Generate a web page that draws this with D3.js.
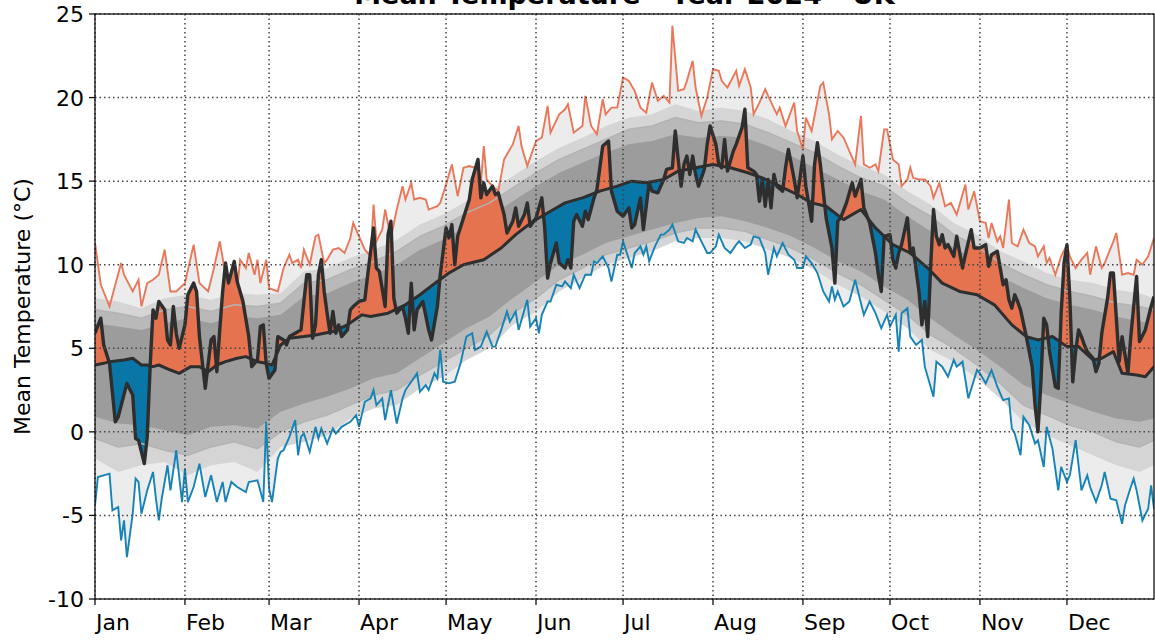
<!DOCTYPE html>
<html>
<head>
<meta charset="utf-8">
<script src="https://cdn.jsdelivr.net/npm/d3@7"></script>
<style>
  body { margin: 0; background: #fff; }
  svg { display: block; font-family: "DejaVu Sans", sans-serif; }
</style>
</head>
<body>
<div id="chart"></div>
<script>
// month labels and the day of year (2024, leap) where each month starts
const months = ["Jan", "Feb", "Mar", "Apr", "May", "Jun", "Jul", "Aug", "Sep", "Oct", "Nov", "Dec"]
const monthStartDay = [0, 31, 60, 91, 121, 152, 182, 213, 244, 274, 305, 335]
const yTicks = [-10, -5, 0, 5, 10, 15, 20, 25]

// record daily max / min, [day of year, °C]
const recordMax = [[0,11.3],[2,8.8],[5,7.5],[9,10.1],[10,9.4],[13,8.4],[15,9.1],[16,7.5],[18,8.9],[20,9.1],[22,9.4],[24,10.9],[26,8.4],[28,8.4],[31,8.9],[34,11.2],[36,8.9],[39,8.4],[41,9.8],[43,11.4],[45,9.4],[49,8.4],[50,10.3],[52,9.8],[53,10.7],[55,9.4],[56,10.3],[57,8.9],[59,10.3],[60,8.6],[63,8.4],[65,9.8],[67,10.6],[68,10.1],[70,10.3],[71,9.8],[72,10.9],[74,10.0],[76,11.7],[77,11.8],[79,10.1],[80,10.3],[82,10.9],[84,11.0],[86,10.7],[88,11.6],[89,12.5],[91,11.7],[93,10.9],[95,10.5],[96,13.6],[97,11.4],[99,12.1],[100,13.3],[102,11.6],[104,13.3],[106,14.7],[107,13.9],[109,14.9],[110,13.9],[112,14.0],[114,13.9],[115,13.3],[118,13.5],[119,13.7],[121,14.8],[123,16.0],[125,14.1],[127,15.8],[129,15.9],[131,15.8],[133,14.9],[134,17.1],[135,15.1],[137,14.7],[139,14.4],[141,16.3],[144,17.2],[146,18.3],[147,17.1],[149,15.9],[152,17.4],[154,17.6],[156,19.5],[157,17.9],[160,19.0],[162,19.3],[163,19.6],[165,17.9],[168,18.3],[169,20.1],[171,18.3],[173,17.8],[175,19.9],[176,19.0],[178,19.4],[180,19.4],[182,21.2],[184,21.0],[186,20.4],[188,19.4],[190,19.1],[192,20.9],[194,19.8],[196,20.1],[198,19.7],[199,24.3],[201,20.4],[203,20.5],[204,21.0],[206,22.2],[207,20.6],[209,18.9],[211,20.0],[213,21.7],[215,21.6],[216,21.0],[218,20.6],[221,21.6],[222,20.7],[224,21.7],[226,20.6],[227,19.0],[229,19.7],[231,20.5],[232,20.1],[235,19.0],[236,19.4],[238,18.3],[241,19.7],[242,18.0],[244,16.9],[245,18.8],[247,18.0],[248,18.9],[250,20.7],[251,20.9],[253,19.0],[254,17.5],[256,18.0],[258,17.6],[260,16.8],[262,16.0],[264,18.9],[265,16.0],[267,15.8],[269,16.0],[270,15.6],[272,18.1],[273,18.1],[275,16.3],[277,16.0],[278,14.7],[280,15.1],[281,15.8],[282,15.2],[284,15.1],[286,15.1],[288,14.7],[289,14.0],[291,14.9],[293,13.5],[295,13.7],[297,13.0],[300,14.8],[301,13.3],[303,14.4],[305,12.6],[307,12.5],[308,11.6],[309,12.5],[311,11.4],[312,11.7],[313,11.0],[315,13.9],[316,11.3],[318,11.1],[320,12.1],[322,11.3],[324,11.1],[325,10.5],[327,11.1],[328,10.1],[329,10.4],[331,9.4],[333,10.5],[335,11.2],[336,10.5],[338,9.8],[340,10.3],[342,10.7],[343,9.4],[345,11.1],[347,9.8],[348,10.1],[351,11.4],[352,11.9],[354,9.4],[356,9.5],[358,9.4],[359,10.3],[361,10.0],[363,10.5],[365,11.6]]

const recordMin = [[0,-4.4],[1,-2.7],[5,-2.5],[6,-4.7],[8,-4.5],[9,-6.5],[10,-5.3],[11,-7.5],[13,-4.9],[14,-2.8],[15,-3.0],[16,-4.9],[18,-3.5],[20,-2.4],[21,-4.0],[22,-5.3],[23,-4.0],[25,-2.0],[26,-3.5],[28,-1.1],[30,-4.2],[31,-2.2],[32,-4.2],[34,-3.3],[36,-1.9],[38,-3.9],[40,-2.6],[42,-4.2],[44,-3.0],[45,-4.2],[47,-3.0],[49,-3.3],[52,-3.6],[53,-3.0],[56,-2.9],[58,-4.2],[59,0.6],[60,-3.4],[61,-4.2],[63,-1.6],[64,-1.2],[65,-1.1],[67,-0.3],[69,0.7],[70,-1.4],[71,-0.3],[72,-0.1],[74,-1.2],[76,0.3],[77,-0.4],[78,0.2],[80,-0.7],[82,0.2],[83,-0.1],[85,0.3],[87,0.5],[88,0.6],[90,1.0],[91,0.3],[93,1.8],[95,2.0],[96,2.5],[97,1.6],[99,2.0],[100,0.7],[102,2.5],[104,0.5],[106,2.0],[107,2.5],[109,3.0],[111,3.5],[112,2.4],[114,2.8],[115,2.5],[117,3.5],[118,3.2],[119,4.9],[120,3.0],[122,2.9],[124,3.0],[126,4.1],[128,5.7],[130,5.9],[131,4.9],[133,5.1],[135,6.0],[137,5.1],[138,5.1],[140,6.1],[142,7.2],[143,6.6],[145,7.2],[146,6.1],[149,7.9],[150,6.3],[152,6.8],[153,5.9],[154,7.0],[156,7.8],[157,7.8],[159,8.8],[161,8.7],[162,9.0],[164,8.6],[165,9.4],[167,8.6],[169,9.4],[171,9.4],[172,10.2],[173,10.1],[175,10.5],[177,9.8],[178,9.0],[180,10.6],[181,10.6],[182,11.4],[185,9.8],[186,10.7],[188,11.1],[189,10.6],[190,11.1],[191,10.2],[193,11.1],[195,11.8],[196,11.8],[198,12.1],[199,12.4],[201,11.4],[203,11.3],[204,11.6],[206,11.4],[207,12.1],[209,11.4],[211,10.7],[212,10.7],[214,11.1],[215,11.8],[217,11.0],[219,10.7],[221,11.2],[222,11.4],[224,11.0],[226,11.2],[227,11.7],[229,11.6],[231,10.7],[232,9.4],[234,11.0],[235,10.5],[237,11.3],[239,10.6],[241,10.3],[242,9.8],[244,9.8],[245,10.5],[247,10.1],[249,9.5],[251,8.4],[253,7.8],[254,8.7],[255,7.9],[256,8.4],[258,7.5],[260,7.8],[262,9.1],[265,7.0],[267,7.8],[269,7.1],[271,6.2],[273,7.0],[274,6.3],[276,7.0],[277,4.8],[278,7.1],[280,7.4],[281,5.7],[283,5.2],[285,5.5],[286,3.9],[289,2.1],[290,4.2],[292,3.9],[294,3.3],[296,4.3],[297,3.9],[299,4.2],[301,2.0],[304,3.7],[305,3.5],[307,2.9],[309,3.7],[311,2.7],[313,1.9],[315,2.0],[316,0.2],[317,-0.1],[319,-1.4],[320,0.9],[322,0.4],[324,-0.7],[325,-0.5],[327,-2.1],[328,0.3],[330,-1.0],[332,-3.5],[333,-2.1],[335,-3.0],[336,-2.6],[338,-0.5],[340,-3.5],[342,-2.6],[343,-3.3],[345,-4.2],[347,-3.2],[348,-2.4],[350,-4.0],[352,-4.1],[354,-5.5],[355,-4.4],[357,-3.3],[358,-2.8],[359,-3.5],[361,-5.3],[363,-4.6],[364,-3.2],[365,-4.6]]

// percentile bands, one value per band day
const bandDays = [0,8,16,24,32,40,48,56,64,72,80,88,96,104,112,120,128,136,144,152,160,168,176,184,192,200,208,216,224,232,240,248,256,264,272,280,288,296,304,312,320,328,336,344,352,360,365]
const outerHigh = [8.0,7.8,7.4,8.0,8.2,7.9,8.3,8.2,8.3,9.6,9.8,10.4,10.9,11.5,12.4,13.0,13.8,14.4,15.3,16.2,17.0,17.6,18.3,18.8,19.0,19.6,19.2,19.4,19.2,18.7,18.0,17.4,16.6,15.9,15.4,14.4,13.6,12.5,11.8,10.8,10.2,9.5,9.1,8.9,8.5,8.3,8.0]
const midHigh = [7.3,7.1,6.8,7.3,7.5,7.2,7.6,7.5,7.7,8.9,9.1,9.7,10.2,10.8,11.7,12.3,13.1,13.7,14.6,15.5,16.3,16.9,17.5,18.1,18.3,18.8,18.5,18.6,18.4,17.9,17.3,16.7,15.9,15.2,14.7,13.7,12.9,11.8,11.1,10.1,9.4,8.8,8.4,8.1,7.7,7.5,7.3]
const innerHigh = [6.5,6.3,6.1,6.5,6.8,6.5,6.9,6.8,7.0,8.1,8.3,8.9,9.4,10.0,10.9,11.5,12.3,12.9,13.8,14.7,15.5,16.1,16.7,17.2,17.4,17.8,17.6,17.7,17.6,17.1,16.5,15.8,15.1,14.4,13.9,12.9,12.0,11.0,10.3,9.3,8.6,8.0,7.6,7.3,6.9,6.6,6.5]
const innerLow = [0.9,0.5,0.4,0.1,-0.2,0.3,0.4,0.2,1.2,1.7,2.1,2.6,3.2,3.5,4.4,5.3,6.2,6.9,8.0,9.0,10.0,10.6,11.3,11.7,12.1,12.5,12.8,12.9,12.6,12.2,11.7,11.0,10.2,9.6,8.7,7.9,6.8,5.8,4.9,3.9,2.8,2.2,1.7,1.2,0.8,0.6,0.8]
const midLow = [-0.4,-0.9,-0.7,-1.1,-1.4,-0.9,-0.6,-1.0,0.0,0.6,1.0,1.6,2.2,2.5,3.4,4.2,5.0,5.8,7.1,8.0,9.1,9.8,10.6,11.0,11.4,11.9,12.2,12.2,12.0,11.5,11.0,10.3,9.5,8.8,7.9,7.0,5.8,5.0,4.0,2.9,1.6,1.0,0.4,0.0,-0.6,-0.9,-0.5]
const outerLow = [-1.6,-2.4,-2.0,-1.8,-2.6,-2.0,-1.8,-2.4,-0.9,-0.6,-0.2,0.8,1.4,1.6,2.6,3.3,4.3,5.0,6.4,7.2,8.4,9.2,10.0,10.4,10.8,11.4,11.6,11.6,11.4,10.9,10.4,9.7,8.8,8.1,7.2,6.2,4.9,4.2,3.2,2.0,0.6,-0.2,-0.8,-1.4,-2.0,-2.4,-2.0]

// long-term mean, [day, °C]
const meanTemp = [[0,4.0],[3,4.1],[5,4.2],[10,4.3],[13,4.4],[16,4.0],[18,4.0],[20,3.9],[22,4.0],[26,3.7],[29,3.5],[33,3.9],[36,3.9],[39,3.6],[42,4.0],[45,4.2],[49,4.4],[52,4.5],[56,4.2],[59,4.1],[61,4.0],[64,5.2],[67,5.6],[72,5.7],[76,5.8],[82,6.0],[87,6.4],[92,7.0],[95,6.9],[101,7.1],[107,7.6],[112,8.2],[118,9.0],[122,9.5],[127,10.0],[134,10.3],[140,11.0],[145,11.8],[151,12.6],[157,13.2],[162,13.7],[168,14.0],[174,14.4],[180,14.7],[185,15.0],[190,14.9],[196,15.1],[201,15.6],[207,15.8],[213,16.0],[219,15.8],[225,15.5],[230,15.2],[236,14.7],[242,14.2],[247,13.7],[252,13.5],[258,12.7],[264,13.3],[269,12.2],[275,11.2],[281,10.7],[287,9.8],[292,8.9],[298,8.4],[304,8.2],[310,7.6],[316,6.4],[321,5.7],[325,5.5],[330,5.7],[335,5.1],[339,5.1],[344,4.3],[347,4.4],[351,4.8],[354,3.5],[359,3.4],[362,3.3],[365,3.9]]

// 2024 daily mean, [day, °C]
const temp2024 = [[0,5.9],[2,6.8],[3,5.2],[5,4.1],[7,0.6],[8,0.9],[11,2.9],[13,2.2],[14,-0.4],[15,-0.5],[17,-1.9],[18,-0.3],[19,3.9],[20,7.3],[21,6.8],[22,7.8],[24,7.3],[25,5.5],[26,5.2],[27,7.5],[28,5.9],[29,5.0],[31,6.4],[32,8.2],[34,8.9],[35,8.4],[36,5.7],[38,2.6],[40,5.5],[41,5.7],[42,3.6],[43,6.1],[44,8.4],[45,10.1],[46,8.9],[48,10.2],[49,9.0],[51,7.8],[53,5.7],[54,3.9],[56,4.3],[57,6.3],[58,6.4],[59,4.1],[60,3.2],[62,3.7],[63,5.7],[65,5.5],[66,5.2],[67,5.7],[69,5.9],[71,6.1],[72,7.8],[73,9.4],[74,9.4],[75,5.6],[76,6.4],[77,9.4],[78,10.3],[79,8.4],[80,7.1],[81,5.9],[82,7.2],[83,5.9],[84,6.4],[85,5.7],[87,6.1],[88,7.3],[89,7.5],[91,7.8],[93,7.9],[94,9.4],[96,12.2],[97,9.8],[98,9.6],[100,7.5],[101,11.8],[102,12.6],[103,8.0],[104,7.1],[106,7.5],[107,6.8],[108,5.9],[109,8.9],[110,6.1],[111,7.3],[113,7.8],[115,6.1],[116,5.5],[118,7.5],[119,9.4],[121,12.2],[122,11.6],[123,12.4],[124,10.0],[125,11.7],[127,12.8],[129,13.9],[130,15.1],[132,16.3],[133,14.0],[134,14.9],[135,14.2],[137,14.7],[138,14.2],[139,14.3],[141,13.0],[142,11.9],[144,12.6],[145,13.4],[146,12.3],[148,13.0],[149,13.7],[150,12.3],[152,12.8],[153,13.4],[154,14.0],[155,12.2],[156,9.2],[157,10.1],[159,11.3],[160,10.1],[162,9.8],[163,10.3],[164,9.8],[165,12.6],[166,13.0],[168,12.3],[169,13.2],[170,12.7],[172,14.0],[173,14.5],[175,17.1],[177,17.4],[178,14.4],[180,13.2],[182,12.9],[184,13.4],[185,12.2],[186,12.4],[188,14.0],[189,12.1],[191,14.9],[192,14.4],[194,14.3],[196,15.1],[197,15.7],[199,15.8],[200,18.0],[201,16.3],[202,14.7],[203,16.0],[204,16.5],[205,15.4],[206,16.5],[207,15.4],[208,14.7],[210,15.7],[211,17.2],[212,18.3],[214,17.2],[215,16.0],[216,15.8],[217,17.5],[218,15.6],[220,16.8],[221,17.2],[223,18.2],[224,19.3],[225,15.8],[227,15.6],[228,15.4],[229,13.8],[230,15.1],[231,13.5],[232,15.1],[233,13.4],[234,15.4],[235,14.7],[237,14.4],[238,15.8],[239,16.9],[241,15.1],[242,14.0],[243,15.2],[244,16.5],[245,14.7],[247,12.6],[248,16.0],[249,17.3],[250,16.0],[252,12.8],[254,11.0],[255,8.9],[256,12.6],[257,12.8],[259,13.7],[261,14.9],[262,14.1],[264,15.1],[265,13.4],[267,12.5],[269,10.7],[270,9.4],[271,8.4],[272,11.7],[274,11.8],[275,10.3],[276,9.8],[277,10.7],[278,11.2],[280,12.8],[281,10.7],[282,11.0],[284,8.4],[285,6.4],[286,7.8],[287,5.7],[288,9.8],[289,13.3],[290,11.7],[291,11.2],[292,11.8],[293,11.0],[294,11.2],[296,10.5],[297,11.7],[299,9.8],[300,10.6],[302,12.1],[303,11.0],[305,11.0],[307,11.2],[308,9.9],[309,10.6],[311,10.8],[312,9.8],[313,8.8],[314,9.1],[315,7.9],[316,7.4],[317,8.2],[318,7.8],[319,7.3],[321,5.7],[323,3.9],[324,1.6],[325,0.0],[326,2.9],[327,6.8],[328,6.4],[329,4.8],[331,2.7],[332,2.6],[333,7.1],[334,10.1],[335,11.2],[336,8.0],[337,3.0],[338,4.8],[339,6.1],[340,5.7],[341,5.2],[342,4.8],[344,4.4],[345,3.6],[346,4.1],[347,5.9],[349,8.0],[350,9.5],[351,9.5],[353,4.2],[354,5.7],[356,3.5],[357,5.7],[359,9.3],[360,5.4],[362,6.1],[364,7.5],[365,8.1]]

const width = 1155
const height = 642
const plot = { left: 95, right: 1154, top: 14, bottom: 599 }

const svg = d3.select("#chart").append("svg")
    .attr("width", width)
    .attr("height", height)

const x = d3.scaleLinear().domain([0, 365]).range([plot.left, plot.right])
const y = d3.scaleLinear().domain([-10, 25]).range([plot.bottom, plot.top])

const defs = svg.append("defs")

defs.append("clipPath").attr("id", "plot-clip")
  .append("rect")
    .attr("x", plot.left).attr("y", plot.top)
    .attr("width", plot.right - plot.left).attr("height", plot.bottom - plot.top)

//regions above and below the long-term mean, used to colour the anomaly
defs.append("clipPath").attr("id", "above-mean")
  .append("path")
    .attr("d", d3.area().x(d => x(d[0])).y0(plot.top).y1(d => y(d[1]))(meanTemp))

defs.append("clipPath").attr("id", "below-mean")
  .append("path")
    .attr("d", d3.area().x(d => x(d[0])).y0(plot.bottom).y1(d => y(d[1]))(meanTemp))

const g = svg.append("g").attr("clip-path", "url(#plot-clip)")

const line = d3.line().x(d => x(d[0])).y(d => y(d[1]))
const under = d3.area().x(d => x(d[0])).y0(plot.bottom).y1(d => y(d[1]))

//record range: light under record max, then white under record min
g.append("path").attr("d", under(recordMax)).attr("fill", "#ececec")
g.append("path").attr("d", under(recordMin)).attr("fill", "#ffffff")

const band = (hi, lo) => d3.area()
    .x((d, i) => x(bandDays[i]))
    .y0((d, i) => y(lo[i]))
    .y1((d, i) => y(hi[i]))(bandDays)

g.append("path").attr("d", band(outerHigh, outerLow)).attr("fill", "#d5d5d5")
g.append("path").attr("d", band(midHigh, midLow)).attr("fill", "#b9b9b9")
g.append("path").attr("d", band(innerHigh, innerLow)).attr("fill", "#9c9c9c")

//anomaly fills between 2024 and the mean
g.append("path")
    .attr("d", under(temp2024))
    .attr("fill", "#e5734f")
    .attr("clip-path", "url(#above-mean)")

g.append("path")
    .attr("d", d3.area().x(d => x(d[0])).y0(plot.top).y1(d => y(d[1]))(temp2024))
    .attr("fill", "#0877a8")
    .attr("clip-path", "url(#below-mean)")

//band edges show through the fills
const bandEdge = vals => d3.line().x((d, i) => x(bandDays[i])).y((d, i) => y(vals[i]))(bandDays)
g.append("path").attr("d", bandEdge(midHigh)).attr("fill", "none").attr("stroke", "#b3b3b3").attr("stroke-width", 1.5)
g.append("path").attr("d", bandEdge(midLow)).attr("fill", "none").attr("stroke", "#b3b3b3").attr("stroke-width", 1.5)

//dotted grid
const grid = svg.append("g")
    .attr("stroke", "#444")
    .attr("stroke-width", 1.5)
    .attr("stroke-dasharray", "1.5,3")

grid.selectAll(".vgrid").data(monthStartDay).join("line")
    .attr("x1", d => x(d)).attr("x2", d => x(d))
    .attr("y1", plot.top).attr("y2", plot.bottom)

grid.selectAll(".hgrid").data(yTicks).join("line")
    .attr("x1", plot.left).attr("x2", plot.right)
    .attr("y1", d => y(d)).attr("y2", d => y(d))

//records, mean and 2024
g.append("path").attr("d", line(recordMax)).attr("fill", "none").attr("stroke", "#e8785a").attr("stroke-width", 1.9)
g.append("path").attr("d", line(recordMin)).attr("fill", "none").attr("stroke", "#1683b5").attr("stroke-width", 1.9)
g.append("path").attr("d", line(meanTemp)).attr("fill", "none").attr("stroke", "#2e2e2e").attr("stroke-width", 3)
  .attr("stroke-linejoin", "round")
g.append("path").attr("d", line(temp2024)).attr("fill", "none").attr("stroke", "#2e2e2e").attr("stroke-width", 3.4)
  .attr("stroke-linejoin", "round")

//frame
svg.append("rect")
    .attr("x", plot.left).attr("y", plot.top)
    .attr("width", plot.right - plot.left).attr("height", plot.bottom - plot.top)
    .attr("fill", "none").attr("stroke", "#111").attr("stroke-width", 1.3)

//y axis ticks and labels
svg.selectAll(".ytick").data(yTicks).join("line")
    .attr("x1", plot.left - 6).attr("x2", plot.left)
    .attr("y1", d => y(d)).attr("y2", d => y(d))
    .attr("stroke", "#111").attr("stroke-width", 1.3)

svg.selectAll(".ylab").data(yTicks).join("text")
    .attr("x", plot.left - 11)
    .attr("y", d => y(d) + 8)
    .attr("text-anchor", "end")
    .attr("font-size", 22)
    .text(d => d)

//x axis ticks and month labels
svg.selectAll(".xtick").data(monthStartDay).join("line")
    .attr("x1", d => x(d)).attr("x2", d => x(d))
    .attr("y1", plot.bottom).attr("y2", plot.bottom + 6)
    .attr("stroke", "#111").attr("stroke-width", 1.3)

svg.selectAll(".xlab").data(months).join("text")
    .attr("x", (d, i) => x(monthStartDay[i]) + 1)
    .attr("y", 630)
    .attr("font-size", 22)
    .text(d => d)

svg.append("text")
    .attr("transform", "translate(30," + (plot.top + plot.bottom) / 2 + ") rotate(-90)")
    .attr("text-anchor", "middle")
    .attr("font-size", 22)
    .text("Mean Temperature (°C)")

//title sits above the frame, clipped by the top of the page as in the source
svg.append("text")
    .attr("x", (plot.left + plot.right) / 2)
    .attr("y", 4)
    .attr("text-anchor", "middle")
    .attr("font-size", 27)
    .attr("font-weight", "bold")
    .text("Mean Temperature - Year 2024 - UK")
</script>
</body>
</html>
